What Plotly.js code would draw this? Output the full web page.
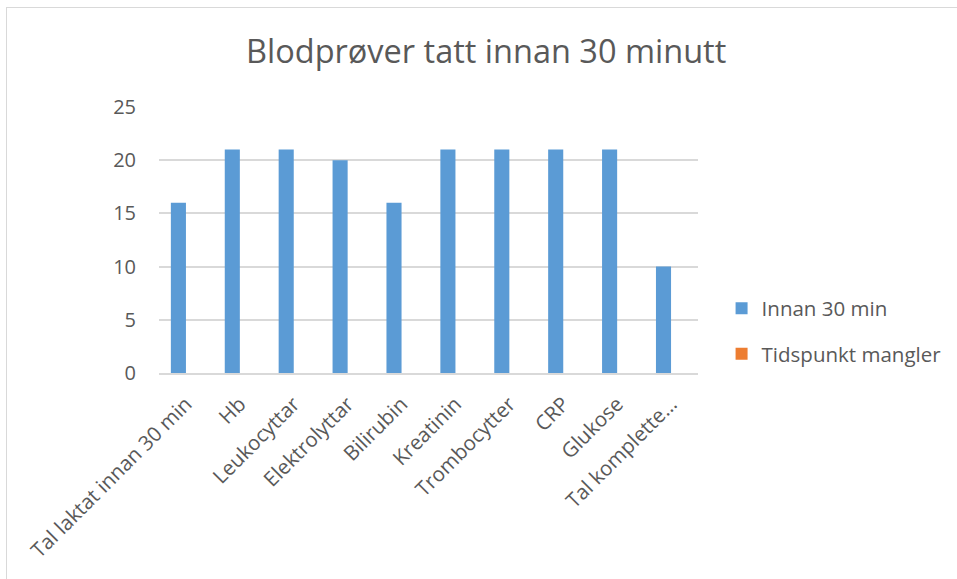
<!DOCTYPE html>
<html>
<head>
<meta charset="utf-8">
<script src="https://cdn.plot.ly/plotly-3.0.1.min.js"></script>
<style>
  html, body { margin: 0; padding: 0; background: #fff; }
  #wrap { position: relative; width: 957px; height: 579px; overflow: hidden; }
  #chart { position: absolute; left: 0; top: 0; width: 957px; height: 579px; }
  #frame { position: absolute; left: 6px; top: 7px; width: 970px; height: 600px;
           border-left: 1.5px solid #d9d9d9; border-top: 1.5px solid #d9d9d9; pointer-events: none; }
</style>
</head>
<body>
<div id="wrap">
  <div id="chart"></div>
  <div id="frame"></div>
</div>
<script>
const categories = ["Tal laktat innan 30 min", "Hb", "Leukocyttar", "Elektrolyttar", "Bilirubin",
                    "Kreatinin", "Trombocytter", "CRP", "Glukose", "Tal komplette…"];
const innan30 = [16, 21, 21, 20, 16, 21, 21, 21, 21, 10];
const mangler = [0, 0, 0, 0, 0, 0, 0, 0, 0, 0];
const yTicks = [0, 5, 10, 15, 20, 25];

const font = "'Open Sans', 'Noto Sans', sans-serif";
const grey = "#595959";

const traces = [
  { type: "bar", name: "Innan 30 min", x: categories, y: innan30,
    marker: { color: "#5B9BD5" }, legendgroup: "a", hoverinfo: "x+y" },
  { type: "bar", name: "Tidspunkt mangler", x: categories, y: mangler,
    marker: { color: "#ED7D31" }, legendgroup: "b", hoverinfo: "x+y" }
];

const layout = {
  width: 957, height: 579,
  margin: { l: 159, r: 259, t: 107, b: 206 },
  paper_bgcolor: "#fff", plot_bgcolor: "#fff",
  barmode: "group", bargap: 0.44, bargroupgap: 0,
  title: { text: "Blodprøver tatt innan 30 minutt", font: { family: font, size: 32.5, color: grey },
           x: 0.508, xanchor: "center", y: 0.91, yanchor: "middle", yref: "container" },
  font: { family: font, color: grey },
  xaxis: { type: "category", tickangle: -45, tickfont: { family: font, size: 20.5, color: grey },
           showgrid: false, showline: true, linecolor: "#d9d9d9", linewidth: 2,
           ticks: "", ticklabelstandoff: 9, automargin: false },
  yaxis: { range: [0, 25], tickvals: yTicks, showgrid: true, gridcolor: "#d9d9d9", gridwidth: 2,
           zeroline: false, showline: false, ticks: "", ticklabelstandoff: 22,
           tickfont: { family: font, size: 20, color: grey }, automargin: false },
  showlegend: true,
  legend: { xref: "container", yref: "container", x: 0.754, xanchor: "left", y: 0.502, yanchor: "top",
            tracegroupgap: 16, font: { family: font, size: 20.5, color: grey }, itemwidth: 30,
            bgcolor: "rgba(0,0,0,0)" }
};

Plotly.newPlot("chart", traces, layout, { displayModeBar: false, staticPlot: true });
</script>
</body>
</html>
